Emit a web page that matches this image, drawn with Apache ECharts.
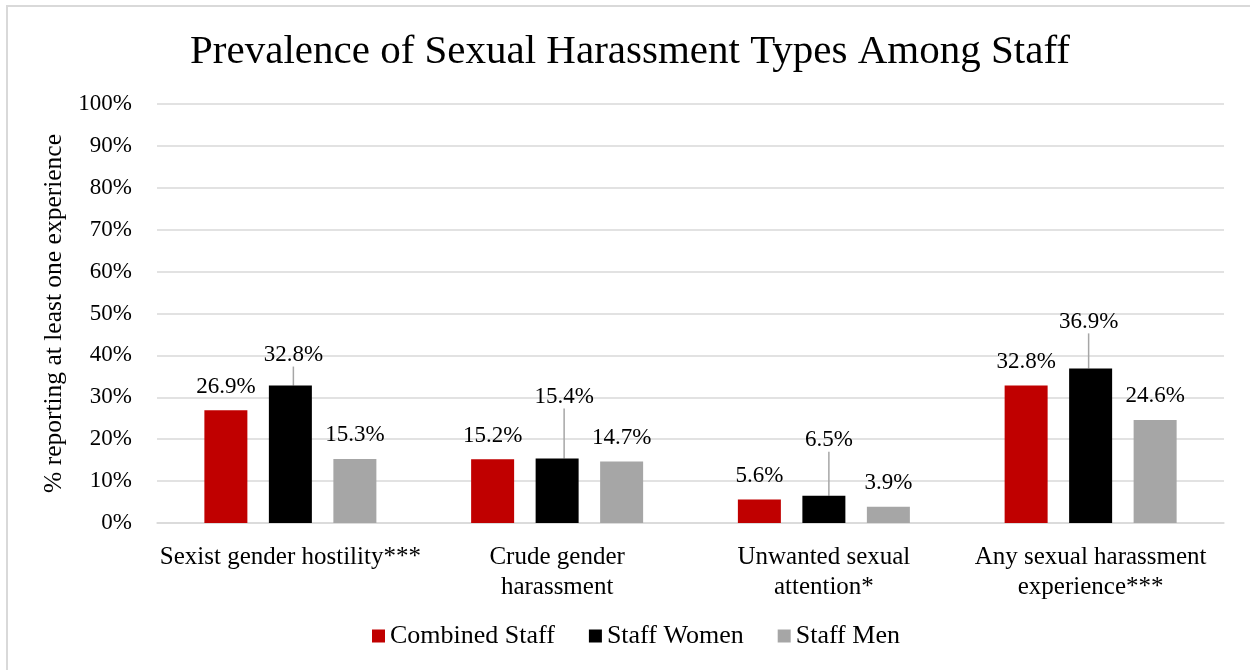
<!DOCTYPE html>
<html>
<head>
<meta charset="utf-8">
<style>
  html, body { margin: 0; padding: 0; background: #ffffff; }
  #chart { width: 1250px; height: 670px; }
</style>
<script src="https://cdn.jsdelivr.net/npm/echarts@6/dist/echarts.min.js"></script>
</head>
<body>
<div id="chart"></div>
<script>
// Survey results: share of staff reporting at least one experience, by type
const categories = [
  'Sexist gender hostility***',
  'Crude gender\nharassment',
  'Unwanted sexual\nattention*',
  'Any sexual harassment\nexperience***'
];
const seriesNames = ['Combined Staff', 'Staff Women', 'Staff Men'];
const combinedStaff = [26.9, 15.2, 5.6, 32.8];
const staffWomen = [32.8, 15.4, 6.5, 36.9];
const staffMen = [15.3, 14.7, 3.9, 24.6];
const yTicks = [0, 10, 20, 30, 40, 50, 60, 70, 80, 90, 100];

const FONT = 'Liberation Serif';

const chart = echarts.init(document.getElementById('chart'), null, { renderer: 'canvas' });

// Women's labels sit further up and are tied back to their bars by a leader line
const womenLabelShift = [[3, -7], [7, -38], [5, -32], [-2, -23]];

function barLabel() {
  return {
    show: true,
    position: 'top',
    distance: 12,
    color: '#000',
    fontFamily: FONT,
    fontSize: 23,
    formatter: p => p.value.toFixed(1) + '%'
  };
}

const option = {
  animation: false,
  backgroundColor: '#ffffff',
  textStyle: { fontFamily: FONT, color: '#000' },
  graphic: [{
    type: 'rect',
    silent: true,
    shape: { x: 7, y: 6, width: 1300, height: 700 },
    style: { fill: 'none', stroke: '#d9d9d9', lineWidth: 2 }
  }],
  title: {
    text: 'Prevalence of Sexual Harassment Types Among Staff',
    left: 625,
    top: 27,
    textAlign: 'center',
    textStyle: { fontFamily: FONT, fontSize: 41, fontWeight: 'normal', color: '#000' }
  },
  legend: {
    data: seriesNames,
    left: 372,
    top: 623,
    padding: 0,
    icon: 'rect',
    itemWidth: 13,
    itemHeight: 13,
    itemGap: 34,
    textStyle: { fontFamily: FONT, fontSize: 26, color: '#000' }
  },
  grid: { left: 157, right: 26, top: 104, bottom: 147, containLabel: false },
  xAxis: {
    type: 'category',
    data: categories,
    axisLine: { show: true, lineStyle: { color: '#d9d9d9', width: 1.5 } },
    axisTick: { show: false },
    axisLabel: {
      interval: 0,
      margin: 19,
      fontFamily: FONT,
      fontSize: 25,
      lineHeight: 30,
      color: '#000',
      align: 'center'
    }
  },
  yAxis: {
    type: 'value',
    min: yTicks[0],
    max: yTicks[yTicks.length - 1],
    interval: yTicks[1] - yTicks[0],
    name: '% reporting at least one experience',
    nameLocation: 'middle',
    nameRotate: 90,
    nameGap: 84,
    nameTextStyle: { fontFamily: FONT, fontSize: 25.5, color: '#000' },
    axisLine: { show: false },
    axisTick: { show: false },
    splitLine: { lineStyle: { color: '#d9d9d9', width: 1.5 } },
    axisLabel: {
      margin: 25,
      fontFamily: FONT,
      fontSize: 23,
      color: '#000',
      formatter: v => v + '%'
    }
  },
  series: [
    {
      name: seriesNames[0],
      type: 'bar',
      data: combinedStaff,
      barWidth: 43,
      barGap: '50%',
      itemStyle: { color: '#c00000' },
      label: barLabel()
    },
    {
      name: seriesNames[1],
      type: 'bar',
      data: staffWomen,
      barWidth: 43,
      barGap: '50%',
      itemStyle: { color: '#000000' },
      label: barLabel(),
      labelLayout: p => ({ dx: womenLabelShift[p.dataIndex][0], dy: womenLabelShift[p.dataIndex][1] }),
      labelLine: { show: true, lineStyle: { color: '#a6a6a6', width: 1.5 } }
    },
    {
      name: seriesNames[2],
      type: 'bar',
      data: staffMen,
      barWidth: 43,
      barGap: '50%',
      itemStyle: { color: '#a6a6a6' },
      label: barLabel()
    }
  ]
};

chart.setOption(option);
</script>
</body>
</html>
